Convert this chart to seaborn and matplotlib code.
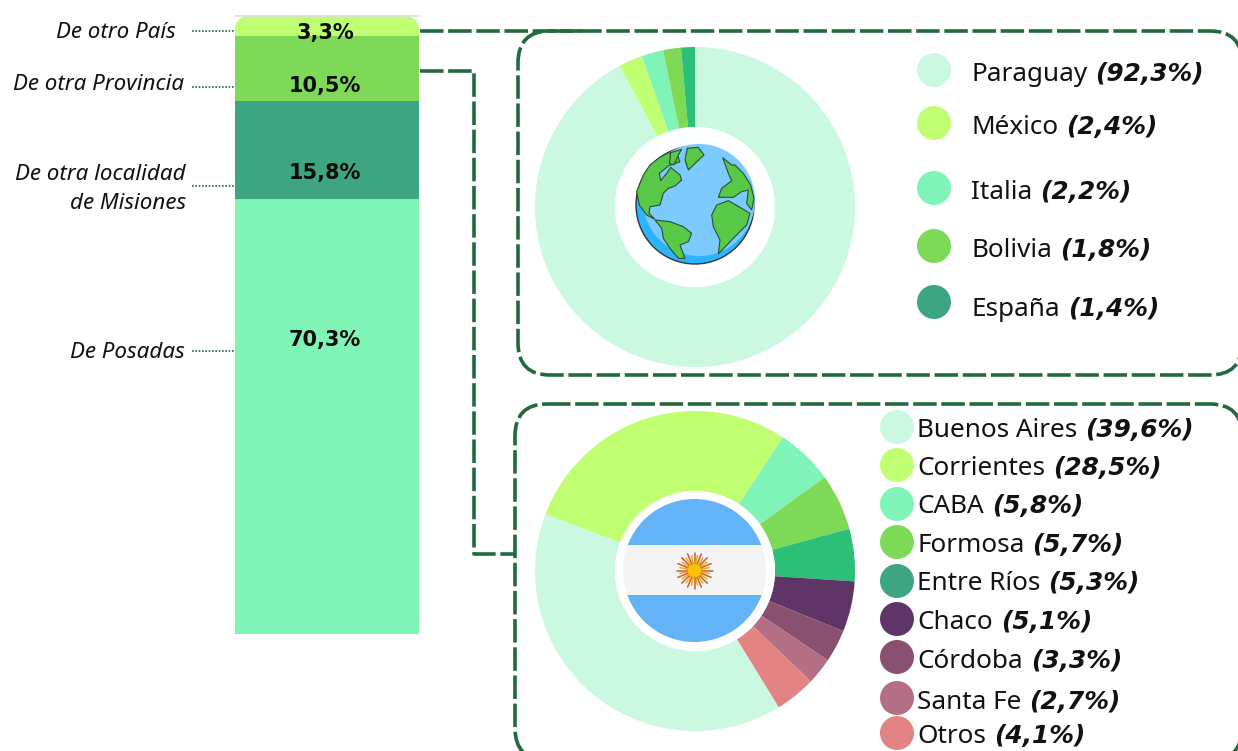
import numpy as np
import pandas as pd
import matplotlib
matplotlib.use('Agg')
import matplotlib.pyplot as plt
import seaborn as sns
from matplotlib.patches import Circle, FancyBboxPatch, Polygon

# stacked bar
origen = ['De Posadas', 'De otra localidad\nde Misiones', 'De otra Provincia', 'De otro País']
origen_vals = [70.3, 15.8, 10.5, 3.3]
origen_cols = ['#7FF4B6', '#3DA582', '#7ED957', '#C1FF72']

# donuts
paises = ['Paraguay', 'México', 'Italia', 'Bolivia', 'España']
paises_vals = [92.3, 2.4, 2.2, 1.8, 1.4]
paises_cols = ['#CBF8E0', '#C1FF72', '#7FF4B6', '#7ED957', '#2BBF78']
paises_leg = ['#CBF8E0', '#C1FF72', '#7FF4B6', '#7ED957', '#3DA582']

provincias = ['Buenos Aires', 'Corrientes', 'CABA', 'Formosa', 'Entre Ríos',
              'Chaco', 'Córdoba', 'Santa Fe', 'Otros']
provincias_vals = [39.6, 28.5, 5.8, 5.7, 5.3, 5.1, 3.3, 2.7, 4.1]
provincias_cols = ['#CBF8E0', '#C1FF72', '#7FF4B6', '#7ED957', '#2BBF78',
                   '#5E3566', '#8A5070', '#B56F85', '#E28484']
provincias_leg = ['#CBF8E0', '#C1FF72', '#7FF4B6', '#7ED957', '#3DA582',
                  '#5E3566', '#8A5070', '#B56F85', '#E28484']

W, H = 1238, 751
DARK = '#23693E'
FONT = 'Noto Sans'

sns.set_theme(style='white')
plt.rcParams['font.family'] = [FONT, 'DejaVu Sans']
fig = plt.figure(figsize=(W / 100, H / 100), dpi=100, facecolor='white')


def px_axes(x0, y0, x1, y1, **kw):
    return fig.add_axes([x0 / W, 1 - y1 / H, (x1 - x0) / W, (y1 - y0) / H], **kw)


# bar, 235-419 px wide, 16-634 px tall
ax_bar = px_axes(235, 16, 419, 634)
df = pd.DataFrame({'origen': origen, 'valor': origen_vals, 'color': origen_cols})
df['base'] = df['valor'].cumsum() - df['valor']
for _, row in df.iterrows():
    sns.barplot(x=[0], y=[row['valor']], bottom=row['base'], color=row['color'],
                width=1, saturation=1, linewidth=0, ax=ax_bar)
ax_bar.set_xlim(-0.5, 0.5)
ax_bar.set_ylim(0, df['valor'].sum())
ax_bar.axis('off')

# pies
ax_p1 = px_axes(535, 47, 855, 367)
ax_p1.pie(paises_vals, colors=paises_cols, startangle=90, counterclock=False,
          radius=1, wedgeprops={'width': 0.5, 'linewidth': 0})
ax_p1.set_xlim(-1, 1)
ax_p1.set_ylim(-1, 1)

ax_p2 = px_axes(535, 411, 855, 731)
ax_p2.pie(provincias_vals, colors=provincias_cols, startangle=-58.4, counterclock=False,
          radius=1, wedgeprops={'width': 0.5, 'linewidth': 0})
ax_p2.set_xlim(-1, 1)
ax_p2.set_ylim(-1, 1)

# overlay in pixel coordinates
ax = fig.add_axes([0, 0, 1, 1], facecolor='none')
ax.set_xlim(0, W)
ax.set_ylim(H, 0)
ax.axis('off')

# rounded top of the bar
top_clip = FancyBboxPatch((235, 16), 184, 80, boxstyle='round,pad=0,rounding_size=15',
                          transform=ax.transData, fc='none', ec='none')
ax.add_patch(top_clip)
ax_bar.patches[3].set_clip_path(top_clip)
ax.plot([235, 419], [15.5, 15.5], color='#DDDDDD', lw=1.2, zorder=0)

# bar value labels
for y, val in zip([338, 171, 84, 31], origen_vals):
    ax.text(325, y, f'{val:.1f}%'.replace('.', ','), ha='center', va='center_baseline',
            fontsize=15, fontweight='bold', family='DejaVu Sans', color='#0A0A0A')

# side labels and dotted leaders
label_y = [353, 189, 85, 33]
tick_y = [351, 186, 87, 31]
label_x = [185, 186, 184, 176]
for name, ly, ty, lx in zip(origen, label_y, tick_y, label_x):
    ax.text(lx, ly, name, ha='right', va='center', fontsize=16.1,
            style='italic', color='#111111', linespacing=1.45)
    ax.plot([192, 234], [ty, ty], color=DARK, lw=1.2, ls=(0, (1, 1)))

# dashed frames and connectors
# almost invisible fill: agg mangles unfilled curves that run past the canvas edge
dash = (0, (6.5, 1.3))
for (x, y, w, h) in [(518, 31, 724, 344), (515, 404, 727, 356)]:
    ax.add_patch(FancyBboxPatch((x, y), w, h, boxstyle='round,pad=0,rounding_size=32',
                                fc=(1, 1, 1, 0.001), ec=DARK, lw=2.6, ls=dash, clip_on=False))
ax.plot([420, 580], [31, 31], color=DARK, lw=2.6, ls=dash)
ax.plot([420, 474, 474, 516], [71, 71, 554, 554], color=DARK, lw=2.6, ls=dash)

# globe
ax.add_patch(Circle((695, 207), 80, fc='white', ec='none'))
gx, gy = 695, 205
ax.add_patch(Circle((gx, gy), 59, fc='#2DB4FF', ec='#333333', lw=1, zorder=3))
ax.add_patch(Circle((gx + 4, gy - 5), 56, fc='#7BCBFF', ec='none', zorder=3.1))
tierras = [
    [(110, 245), (130, 195), (150, 165), (175, 145), (205, 128), (232, 135), (240, 155), (205, 168),
     (178, 190), (182, 212), (200, 190), (212, 172), (240, 195), (245, 210), (225, 228), (205, 235),
     (190, 250), (180, 285), (150, 290), (147, 310), (165, 328), (140, 315), (118, 285)],
    [(165, 330), (210, 335), (250, 350), (275, 370), (265, 395), (240, 405), (255, 445), (235, 445),
     (210, 415), (190, 385), (185, 355)],
    [(262, 115), (295, 112), (312, 135), (280, 165), (265, 180), (255, 150)],
    [(335, 315), (350, 285), (385, 272), (425, 295), (450, 310), (440, 345), (400, 385), (355, 432),
     (360, 390), (340, 350)],
    [(368, 143), (395, 165), (405, 165), (430, 190), (452, 225), (462, 265), (455, 300), (440, 280),
     (445, 240), (425, 245), (400, 262), (385, 262), (355, 262), (365, 235), (395, 212), (385, 190)],
    [(212, 128), (245, 118), (235, 135), (222, 165), (208, 160)],
]
for t in tierras:
    pts = [(600 + a / 3, 110 + b / 3) for a, b in t]
    ax.add_patch(Polygon(pts, closed=True, fc='#58C947', ec='#2E4A3A', lw=0.8, zorder=3.2))

# flag
fx, fy, fr = 694.5, 570.5, 71.5
ax.add_patch(Circle((695, 571), 80, fc='white', ec='none'))
ax.add_patch(Circle((fx, fy), fr, fc='#F4F4F4', ec='none', zorder=3))
for y0, y1 in [(499, 545), (595, 642)]:
    band = ax.fill_between([620, 770], y0, y1, color='#64B3F6', lw=0, zorder=3.1)
    band.set_clip_path(Circle((fx, fy), fr, transform=ax.transData))
for i, ang in enumerate(np.arange(0, 360, 360 / 32)):
    r = 18 if i % 2 == 0 else 15
    c = '#C9602A' if i % 2 == 0 else '#F2A922'
    a = np.radians(ang)
    ax.plot([fx, fx + r * np.cos(a)], [fy, fy + r * np.sin(a)], color=c, lw=1.1, zorder=3.2)
ax.add_patch(Circle((fx, fy), 7, fc='#FFC107', ec='#E39A00', lw=0.6, zorder=3.3))

renderer = fig.canvas.get_renderer()


def leyenda(nombres, valores, colores, cx, tx, cy, ty, size, size_b):
    for n, v, c, y0, y1 in zip(nombres, valores, colores, cy, ty):
        ax.add_patch(Circle((cx, y0), 17, fc=c, ec='none'))
        t = ax.text(tx, y1, n, va='baseline', ha='left', fontsize=size, color='#111111')
        x_fin = ax.transData.inverted().transform((t.get_window_extent(renderer).x1, 0))[0]
        ax.text(x_fin + 8, y1, f'({v:.1f}%)'.replace('.', ','), va='baseline', ha='left',
                fontsize=size_b, style='italic', fontweight='bold', family='DejaVu Sans',
                color='#111111')


leyenda(paises, paises_vals, paises_leg, 934, 971,
        [70, 123, 188, 246, 302], [81, 134, 199, 257, 316], 18.8, 17.8)
leyenda(provincias, provincias_vals, provincias_leg, 897, 917,
        [427, 465, 504, 542, 581, 619, 657, 698, 733],
        [437, 475, 513, 552, 590, 629, 668, 709, 743], 18.8, 17.8)

fig.savefig('out.png', dpi=100)
